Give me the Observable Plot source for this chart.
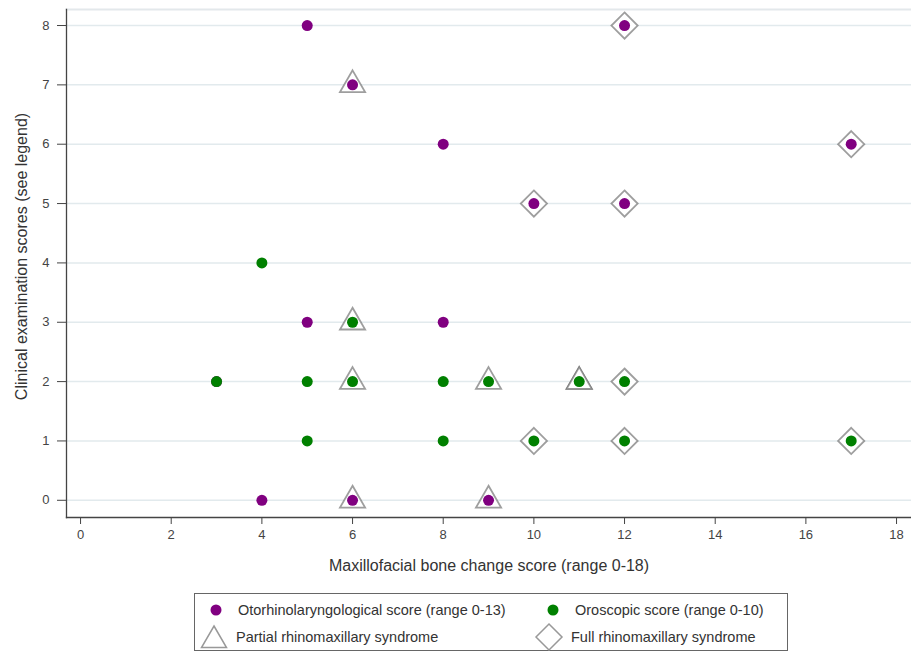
<!DOCTYPE html>
<html>
<head>
<meta charset="utf-8">
<script src="https://cdn.jsdelivr.net/npm/d3@7"></script>
<script src="https://cdn.jsdelivr.net/npm/@observablehq/plot@0.6"></script>
<style>
  html, body { margin: 0; padding: 0; background: #fff; }
  body { font-family: "Liberation Sans", Arial, sans-serif; }
  #wrap { position: relative; width: 911px; height: 656px; }
  #legend { position: absolute; left: 194px; top: 593px; width: 594px; height: 58px;
            border: 1px solid #666; box-sizing: border-box; background: #fff; }
  .item { position: absolute; display: flex; align-items: center; font-size: 14.5px; color: #333; white-space: nowrap; }
  .item svg { display: block; }
</style>
</head>
<body>
<div id="wrap">
  <div id="chart"></div>
  <div id="legend"></div>
</div>
<script>
// ---- Data (one entry per patient) ----
const boneScore = [3, 4, 5, 5, 6, 6, 8, 8, 9, 10, 11, 12, 12, 17];
const entScore  = [2, 0, 8, 3, 7, 0, 6, 3, 0, 5, 2, 8, 5, 6];
const oroScore  = [2, 4, 2, 1, 3, 2, 2, 1, 2, 1, 2, 2, 1, 1];
const syndrome  = ["none","none","none","none","partial","partial","none","none","partial","full","partial","full","full","full"];

const xTicks = [0, 2, 4, 6, 8, 10, 12, 14, 16, 18];
const yTicks = [0, 1, 2, 3, 4, 5, 6, 7, 8];

const xLabel = "Maxillofacial bone change score (range 0-18)";
const yLabel = "Clinical examination scores (see legend)";
const legendLabels = {
  ent: "Otorhinolaryngological score (range 0-13)",
  oro: "Oroscopic score (range 0-10)",
  partial: "Partial rhinomaxillary syndrome",
  full: "Full rhinomaxillary syndrome"
};

const colors = { ent: "#800080", oro: "#008000" };
const symbolStroke = "#6a6a6a";

const patients = boneScore.map((b, i) => ({ bone: b, ent: entScore[i], oro: oroScore[i], syndrome: syndrome[i] }));
const partial = patients.filter(d => d.syndrome === "partial");
const full = patients.filter(d => d.syndrome === "full");

function seriesMarks(key) {
  return [
    Plot.dot(partial, { x: "bone", y: key, symbol: "triangle2", r: 12, stroke: symbolStroke, strokeOpacity: 0.65, strokeWidth: 1.8, fill: "white" }),
    Plot.dot(full, { x: "bone", y: key, symbol: "diamond2", r: 11.8, stroke: symbolStroke, strokeOpacity: 0.65, strokeWidth: 1.8, fill: "white" }),
    Plot.dot(patients, { x: "bone", y: key, r: 5.5, fill: colors[key], stroke: "none" })
  ];
}

const chart = Plot.plot({
  width: 911,
  height: 585,
  marginLeft: 66,
  marginRight: 0,
  marginTop: 9,
  marginBottom: 68,
  x: { domain: [-0.31, 18.33] },
  y: { domain: [-0.29, 8.27] },
  style: { fontFamily: '"Liberation Sans", Arial, sans-serif', fontSize: "13px", color: "#333", background: "white" },
  marks: [
    Plot.gridY(yTicks, { stroke: "#e2eaed", strokeOpacity: 1, strokeWidth: 1.5 }),
    Plot.frame({ anchor: "top", stroke: "#e3e8eb", strokeWidth: 2 }),
    Plot.frame({ anchor: "left", stroke: "#444", strokeWidth: 1.3 }),
    Plot.frame({ anchor: "bottom", stroke: "#444", strokeWidth: 1.3 }),
    Plot.axisY(yTicks, { tickSize: 9, tickPadding: 8, fontSize: 13, color: "#444", label: null, tickFormat: "d" }),
    Plot.axisX(xTicks, { tickSize: 7, tickPadding: 5, fontSize: 13, color: "#444", label: null, tickFormat: "d" }),
    Plot.text([yLabel], { frameAnchor: "left", textAnchor: "middle", lineAnchor: "middle", dx: -45, dy: -7, rotate: -90, fontSize: 16, fill: "#333" }),
    Plot.text([xLabel], { frameAnchor: "bottom", textAnchor: "middle", dy: 53, fontSize: 16, fill: "#333" }),
    ...seriesMarks("ent"),
    ...seriesMarks("oro")
  ]
});
document.getElementById("chart").appendChild(chart);

// ---- Legend ----
const legend = document.getElementById("legend");
function sym(kind, color) {
  if (kind === "dot") return `<svg width="24" height="24"><circle cx="12" cy="12" r="5.5" fill="${color}"/></svg>`;
  if (kind === "tri") return `<svg width="30" height="28"><path d="M15,3 L27.5,24.5 L2.5,24.5 Z" fill="none" stroke="#999" stroke-width="1.5"/></svg>`;
  return `<svg width="30" height="30"><path d="M15,2 L28,15 L15,28 L2,15 Z" fill="none" stroke="#999" stroke-width="1.5"/></svg>`;
}
const items = [
  { kind: "dot", color: colors.ent, text: legendLabels.ent, left: 6, top: 16 },
  { kind: "dot", color: colors.oro, text: legendLabels.oro, left: 343, top: 16 },
  { kind: "tri", color: null, text: legendLabels.partial, left: 4, top: 43 },
  { kind: "dia", color: null, text: legendLabels.full, left: 339, top: 43 }
];
for (const it of items) {
  const div = document.createElement("div");
  div.className = "item";
  div.style.left = it.left + "px";
  div.style.top = it.top + "px";
  div.style.transform = "translateY(-50%)";
  div.innerHTML = `<span style="width:30px;display:flex;justify-content:center">${sym(it.kind, it.color)}</span><span style="margin-left:7px">${it.text}</span>`;
  legend.appendChild(div);
}
</script>
</body>
</html>
